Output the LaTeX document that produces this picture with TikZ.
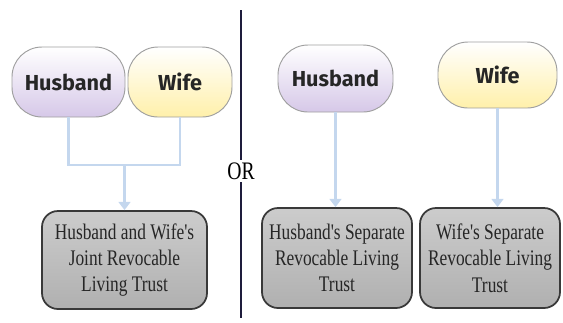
\documentclass[tikz,border=0pt]{standalone}
\usepackage{fontspec}
\usetikzlibrary{positioning, arrows.meta}
\newfontfamily\ovalfont{Fira Sans}
\newfontfamily\trustfont[FakeStretch=0.78]{Liberation Serif}
\definecolor{linkblue}{RGB}{196,215,238}
\definecolor{divider}{RGB}{30,28,60}
\definecolor{lavender}{RGB}{214,200,232}
\definecolor{lemon}{RGB}{255,240,170}
\def\px{0.03cm}
\tikzset{
  person/.style={draw=gray!75, line width=0.8pt, rounded corners=30*\px, minimum height=70*\px,
    inner sep=0pt, font=\ovalfont\bfseries\fontsize{18.5}{22}\selectfont, text=black!85},
  trust/.style={draw=gray!45!black, line width=1.5pt, rounded corners=16*\px, align=center,
    top color=gray!40, bottom color=gray!62, inner sep=0pt,
    font=\trustfont\fontsize{19}{22.5}\selectfont, text=black!85},
  link/.style={linkblue, line width=1.8pt},
  arrowlink/.style={link, -{Triangle[width=10pt, length=7pt]}}
}
\begin{document}
\begin{tikzpicture}[x=\px, y=-\px]
    \useasboundingbox (0,0) rectangle (563,322);

    % joint trust
    \node (lhus) [person, minimum width=113*\px, top color=white, bottom color=lavender] at (68.5,82) {Husband};
    \node (lwife) [person, minimum width=104*\px, top color=white, bottom color=lemon] at (180,82) {Wife};
    \node (joint) [trust, minimum width=165*\px, minimum height=98*\px] at (124.5,260) {Husband and Wife's\\Joint Revocable\\Living Trust};
    \coordinate (join) at (124.5,165);
    \draw[link] (lhus.south) |- (join) -| (lwife.south);
    \draw[arrowlink] (join) -- (joint.north);

    % divider
    \node (or) [font=\trustfont\fontsize{21.5}{24}\selectfont, inner sep=2pt] at (241,171) {OR};
    \coordinate (topend) at (241,10);
    \coordinate (botend) at (241,318);
    \draw[divider, line width=1.6pt] (topend) -- (or.north);
    \draw[divider, line width=1.6pt] (or.south) -- (botend);

    % separate trusts
    \node (rhus) [person, minimum width=115*\px, minimum height=67*\px, top color=white, bottom color=lavender] at (335.5,78.5) {Husband};
    \node (rwife) [person, minimum width=119*\px, minimum height=66*\px, top color=white, bottom color=lemon] at (497.5,75) {Wife};
    \node (htrust) [trust, minimum width=150*\px, minimum height=100*\px] at (337,258) {Husband's Separate\\Revocable Living\\Trust};
    \node (wtrust) [trust, minimum width=140*\px, minimum height=100*\px] at (490,258) {Wife's Separate\\Revocable Living\\Trust};
    \draw[arrowlink] (rhus.south) -- (rhus.south |- htrust.north);
    \draw[arrowlink] (rwife.south) -- (rwife.south |- wtrust.north);
\end{tikzpicture}
\end{document}
